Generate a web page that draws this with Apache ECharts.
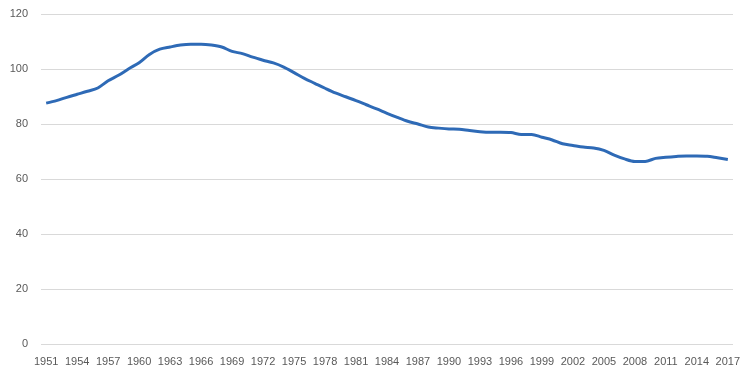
<!DOCTYPE html>
<html>
<head>
<meta charset="utf-8">
<script src="https://cdn.jsdelivr.net/npm/echarts@6/dist/echarts.min.js"></script>
<style>
  html, body { margin: 0; padding: 0; background: #fff; }
  #chart { width: 756px; height: 378px; }
</style>
</head>
<body>
<div id="chart"></div>
<script>
// years 1951..2017
const years = [];
for (let y = 1951; y <= 2017; y++) years.push(String(y));

// values
const values = [
  87.6, 88.5, 89.7, 90.8, 91.9, 93.1, 95.7, 97.7, 100.1, 102.3,
  105.3, 107.2, 108.0, 108.7, 109.0, 109.0, 108.7, 108.0, 106.4, 105.6,
  104.3, 103.2, 102.2, 100.7, 98.7, 96.6, 94.8, 93.0, 91.3, 89.9,
  88.5, 87.0, 85.5, 83.9, 82.4, 81.0, 80.0, 78.9, 78.5, 78.2,
  78.1, 77.6, 77.2, 77.0, 77.0, 76.9, 76.2, 76.2, 75.2, 74.2,
  72.8, 72.2, 71.6, 71.3, 70.4, 68.7, 67.3, 66.4, 66.4, 67.5,
  67.9, 68.2, 68.4, 68.4, 68.3, 67.7, 67.1
];

const yTicks = [0, 20, 40, 60, 80, 100, 120];

const textColor = '#595959';
const font = '"Liberation Sans", Arial, sans-serif';

const myChart = echarts.init(document.getElementById('chart'));
myChart.setOption({
  animation: false,
  grid: { left: 41, right: 23, top: 14, bottom: 34, containLabel: false },
  xAxis: {
    type: 'category',
    data: years,
    boundaryGap: true,
    axisLine: { show: false },
    axisTick: { show: false },
    axisLabel: {
      interval: 2,
      color: textColor,
      fontFamily: font,
      fontSize: 11,
      margin: 12
    }
  },
  yAxis: {
    type: 'value',
    min: yTicks[0],
    max: yTicks[yTicks.length - 1],
    interval: 20,
    axisLine: { show: false },
    axisTick: { show: false },
    splitLine: { lineStyle: { color: '#D9D9D9', width: 1 } },
    axisLabel: {
      color: textColor,
      fontFamily: font,
      fontSize: 11,
      margin: 13
    }
  },
  series: [{
    type: 'line',
    data: values,
    smooth: 0.3,
    showSymbol: false,
    lineStyle: { color: '#2E6AB6', width: 3 }
  }]
});
</script>
</body>
</html>
